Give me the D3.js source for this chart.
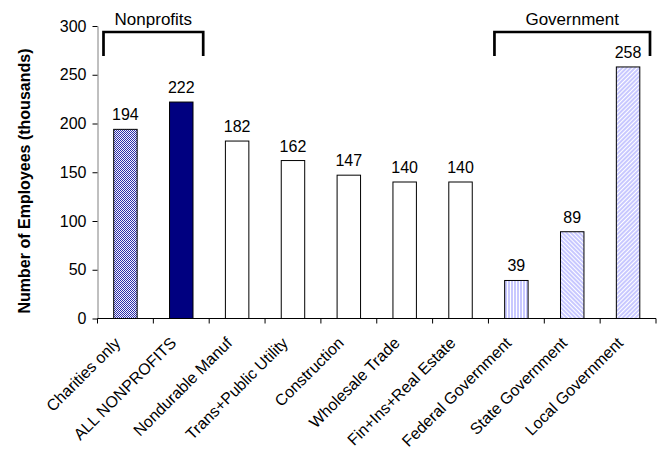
<!DOCTYPE html>
<html><head><meta charset="utf-8">
<script src="https://cdn.jsdelivr.net/npm/d3@7"></script>
<style>
body{margin:0;background:#fff}
svg{display:block;font-family:Arial,"Liberation Sans",sans-serif}
</style>
</head><body>
<svg id="chart" width="662" height="451"></svg>
<script>
// Employment by sector, thousands of employees
const categories = ["Charities only","ALL NONPROFITS","Nondurable Manuf","Trans+Public Utility","Construction","Wholesale Trade","Fin+Ins+Real Estate","Federal Government","State Government","Local Government"];
const employees = [194,222,182,162,147,140,140,39,89,258];
const fillKinds = ["checker","solid","plain","plain","plain","plain","plain","vert","down","up"];
const yTicks = [0,50,100,150,200,250,300];
const groupNames = ["Nonprofits","Government"];
const groupFirst = ["Charities only","Federal Government"];
const groupLast = ["ALL NONPROFITS","Local Government"];

const svg = d3.select("#chart");
const x = d3.scaleBand().domain(categories).range([97.5,656]).padding(0);
const y = d3.scaleLinear().domain([0,300]).range([318.5,26]);

// fill patterns
const defs = svg.append("defs");
const chk = defs.append("pattern").attr("id","checker").attr("patternUnits","userSpaceOnUse").attr("width",2).attr("height",2);
chk.append("rect").attr("width",2).attr("height",2).attr("fill","#f4f4ff");
chk.append("rect").attr("width",1).attr("height",1).attr("fill","#2e2ea8");
chk.append("rect").attr("x",1).attr("y",1).attr("width",1).attr("height",1).attr("fill","#2e2ea8");

function stripes(id, angle){
  const p = defs.append("pattern").attr("id",id).attr("patternUnits","userSpaceOnUse")
    .attr("width",3).attr("height",3).attr("patternTransform",`rotate(${angle})`);
  p.append("rect").attr("width",3).attr("height",3).attr("fill","#c8c8ff");
  p.append("rect").attr("width",1).attr("height",3).attr("fill","#ffffff");
}
stripes("vert",0);
stripes("down",-45);
stripes("up",45);

const fillFor = k => k==="checker" ? "url(#checker)" : k==="solid" ? "#000080" :
  k==="plain" ? "#ffffff" : `url(#${k})`;

const data = categories.map((c,i)=>({c, v:employees[i], k:fillKinds[i]}));
const bw = x.bandwidth()*0.42;

// bars
svg.append("g").selectAll("rect").data(data).join("rect")
  .attr("x", d=>x(d.c)+(x.bandwidth()-bw)/2)
  .attr("y", d=>y(d.v))
  .attr("width", bw)
  .attr("height", d=>y(0)-y(d.v))
  .attr("fill", d=>fillFor(d.k))
  .attr("stroke","#000").attr("stroke-width",1);

// value labels
svg.append("g").selectAll("text").data(data).join("text")
  .attr("x", d=>x(d.c)+x.bandwidth()/2)
  .attr("y", d=>y(d.v)-9)
  .attr("text-anchor","middle")
  .attr("font-size",16)
  .text(d=>d.v);

// y axis
const yAxis = svg.append("g").attr("transform","translate(97.5,0)")
  .call(d3.axisLeft(y).tickValues(yTicks).tickSize(5).tickSizeOuter(0).tickPadding(6));
yAxis.select(".domain").attr("stroke","#808080");
yAxis.selectAll(".tick line").attr("stroke","#000");
yAxis.selectAll(".tick text").attr("font-size",16).attr("font-family","Arial,'Liberation Sans',sans-serif").attr("fill","#000");

// x axis: baseline, boundary ticks, rotated labels
const xa = svg.append("g");
xa.append("line").attr("x1",97.5).attr("x2",656).attr("y1",y(0)).attr("y2",y(0)).attr("stroke","#000");
const edges = categories.map(c=>x(c)).concat([x.range()[1]]);
xa.selectAll("line.tk").data(edges).join("line").attr("class","tk")
  .attr("x1",d=>d).attr("x2",d=>d).attr("y1",y(0)).attr("y2",y(0)+5).attr("stroke","#000");
xa.selectAll("text").data(categories).join("text")
  .attr("transform",c=>`translate(${x(c)+x.bandwidth()/2-4},344) rotate(-45)`)
  .attr("text-anchor","end")
  .attr("font-size",16)
  .text(c=>c);

// y axis title
svg.append("text")
  .attr("transform","translate(30,181) rotate(-90)")
  .attr("text-anchor","middle")
  .attr("font-size",16).attr("font-weight","bold")
  .text("Number of Employees (thousands)");

// group brackets
groupNames.forEach((g,i)=>{
  const x0 = x(groupFirst[i])+6, x1 = x(groupLast[i])+x.bandwidth()-6;
  svg.append("path").attr("d",`M${x0},56V32H${x1}V56`)
    .attr("fill","none").attr("stroke","#000").attr("stroke-width",2.7);
  svg.append("text").attr("x",(x0+x1)/2).attr("y",25)
    .attr("text-anchor","middle").attr("font-size",17).text(g);
});
</script>
</body></html>
